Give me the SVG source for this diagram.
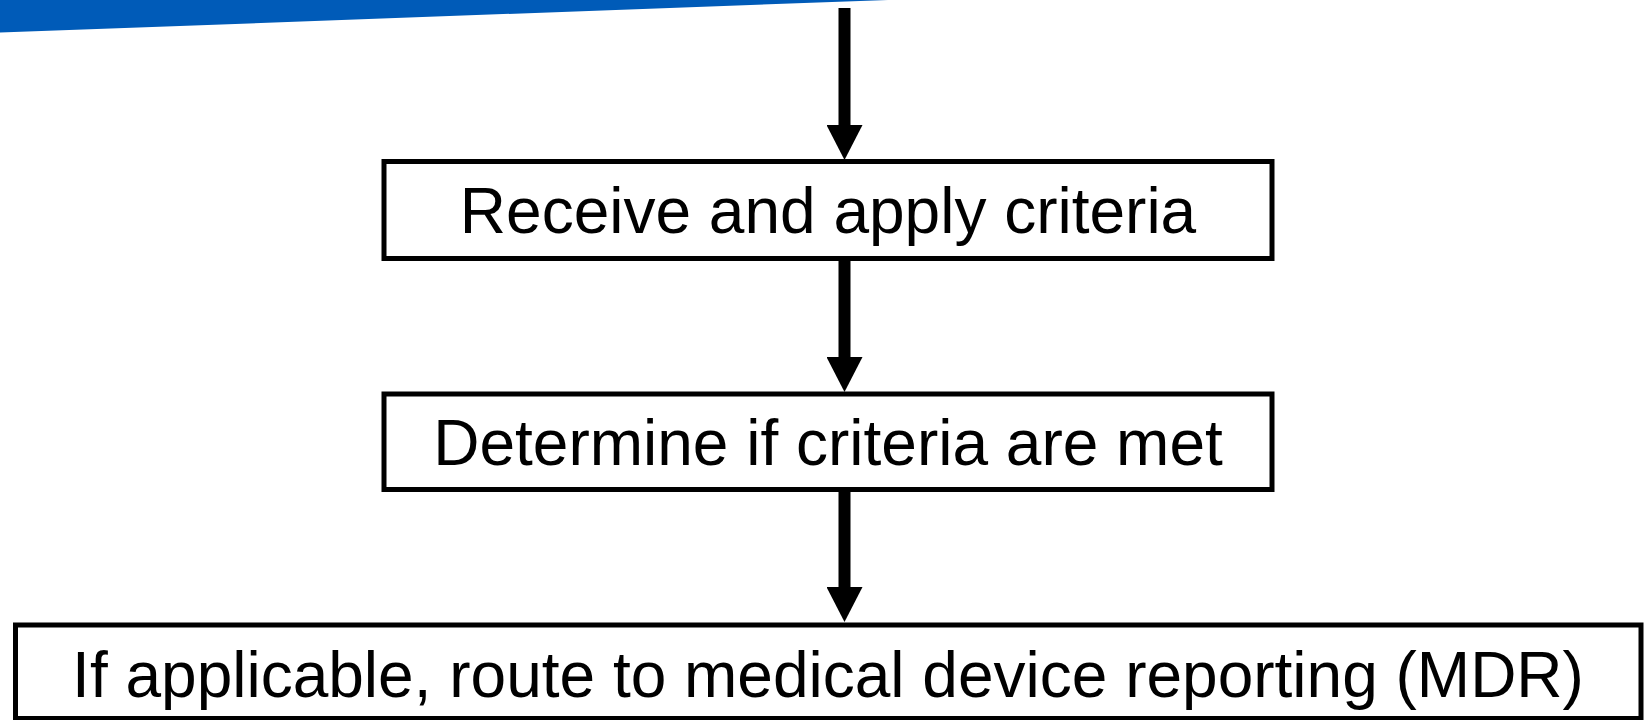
<svg xmlns="http://www.w3.org/2000/svg" width="1645" height="720" viewBox="0 0 1645 720">
  <style>
    .box { fill: #ffffff; stroke: #000000; stroke-width: 5; }
    .label { font-family: "Liberation Sans", Arial, sans-serif; font-size: 64px; fill: #000000; text-anchor: middle; }
    .flow { stroke: #000000; stroke-width: 12; fill: none; marker-end: url(#head); }
  </style>
  <defs>
    <marker id="head" markerUnits="userSpaceOnUse" markerWidth="36" markerHeight="36" viewBox="0 -18 35 36" refX="0" refY="0" orient="auto">
      <path d="M0,-18 L35,0 L0,18 z" fill="#000000"/>
    </marker>
  </defs>

  <!-- header band -->
  <polygon points="0,0 888,0 0,32.5" fill="#005bb8"/>

  <g id="connectors">
    <line class="flow" x1="844.5" y1="8" x2="844.5" y2="125"/>
    <line class="flow" x1="844.5" y1="258" x2="844.5" y2="357"/>
    <line class="flow" x1="844.5" y1="489" x2="844.5" y2="587"/>
  </g>

  <g id="receive">
    <rect class="box" x="384" y="161.5" width="888" height="97"/>
    <text class="label" x="828" y="233">Receive and apply criteria</text>
  </g>

  <g id="determine">
    <rect class="box" x="384" y="394" width="888" height="95.5"/>
    <text class="label" x="828" y="465">Determine if criteria are met</text>
  </g>

  <g id="route">
    <rect class="box" x="15.5" y="625" width="1625.5" height="93.5"/>
    <text class="label" x="828" y="697">If applicable, route to medical device reporting (MDR)</text>
  </g>
</svg>
